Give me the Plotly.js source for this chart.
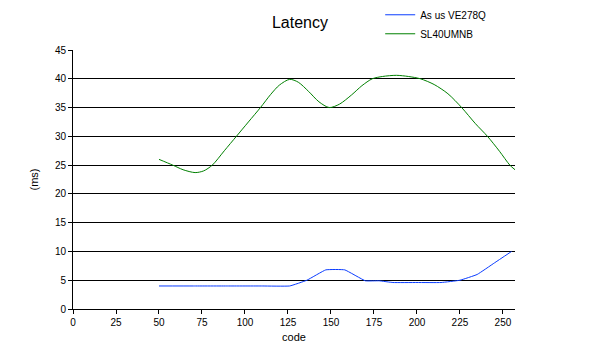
<!DOCTYPE html>
<html>
<head>
<meta charset="utf-8">
<script src="https://cdn.plot.ly/plotly-3.0.1.min.js"></script>
<style>html,body{margin:0;padding:0;background:#fff;}#chart{width:600px;height:356px;}</style>
</head>
<body>
<div id="chart"></div>
<script>
var asusCode = [50, 70, 90, 110, 126, 136, 147, 158, 170, 178, 186, 200, 214, 225, 235, 245, 255];
var asusMs   = [4.0, 4.0, 4.0, 4.0, 4.0, 5.0, 6.8, 6.8, 4.9, 4.9, 4.6, 4.6, 4.6, 5.0, 6.0, 8.0, 10.0];
var slCode = [50, 58, 64, 71, 76, 81, 88, 95, 102, 109, 115, 120, 126, 131, 137, 143, 149, 155, 162, 168, 174, 180, 188, 195, 202, 210, 218, 226, 234, 241, 248, 254, 257];
var slMs   = [26.0, 25.0, 24.2, 23.7, 24.0, 25.0, 27.5, 30.0, 32.5, 35.0, 37.3, 38.9, 39.9, 39.4, 37.8, 36.0, 35.0, 35.6, 37.2, 38.8, 40.0, 40.4, 40.6, 40.4, 40.0, 39.0, 37.4, 35.0, 32.2, 30.0, 27.4, 25.0, 24.2];
var xTicks = [0, 25, 50, 75, 100, 125, 150, 175, 200, 225, 250];
var yTicks = [0, 5, 10, 15, 20, 25, 30, 35, 40, 45];

var traces = [
  {x: asusCode, y: asusMs, name: 'As us VE278Q', mode: 'lines', line: {color: '#0a3cff', width: 1, shape: 'spline', smoothing: 0.3}},
  {x: slCode, y: slMs, name: 'SL40UMNB', mode: 'lines', line: {color: '#008000', width: 1, shape: 'spline', smoothing: 0.8}}
];
var layout = {
  width: 600, height: 356,
  margin: {l: 73, r: 85, t: 50, b: 47, autoexpand: false},
  paper_bgcolor: '#fff', plot_bgcolor: '#fff',
  font: {family: 'Liberation Sans, Arial, sans-serif', color: '#000', size: 10},
  title: {text: 'Latency', x: 0.5, xanchor: 'center', y: 0.938, yanchor: 'middle', font: {size: 16, color: '#000'}},
  showlegend: true,
  legend: {x: 0.695, y: 1.192, xanchor: 'left', yanchor: 'top', itemwidth: 30, font: {size: 10}, bgcolor: 'rgba(0,0,0,0)', tracegroupgap: 0},
  xaxis: {range: [0, 257], tickvals: xTicks, ticktext: xTicks.map(String), showgrid: false, zeroline: false,
          showline: true, linecolor: '#000', linewidth: 1, ticks: 'outside', ticklen: 4, tickcolor: '#000',
          title: {text: 'code', font: {size: 11}, standoff: 6}},
  yaxis: {range: [0, 45], tickvals: yTicks, ticktext: yTicks.map(String), showgrid: true, gridcolor: '#000', gridwidth: 1, zeroline: false,
          showline: true, linecolor: '#000', linewidth: 1, ticks: 'outside', ticklen: 4, tickcolor: '#000',
          title: {text: '(ms)', font: {size: 11}, standoff: 14}}
};
Plotly.newPlot('chart', traces, layout, {displayModeBar: false, staticPlot: true});
</script>
</body>
</html>
